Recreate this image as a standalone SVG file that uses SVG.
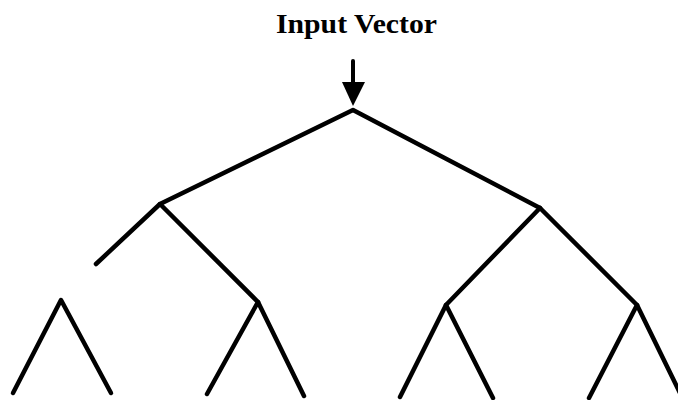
<svg xmlns="http://www.w3.org/2000/svg" width="678" height="400" viewBox="0 0 678 400">
<style>
.e{stroke:#000;stroke-width:4.5;stroke-linecap:round;stroke-linejoin:round;fill:none}
.t{font-family:"Liberation Serif","Times New Roman",serif;font-weight:bold;font-size:27px;fill:#000}
</style>
<rect width="678" height="400" fill="#fff"/>
<g id="input">
<text class="t" x="276" y="33" textLength="161" lengthAdjust="spacingAndGlyphs">Input Vector</text>
<line x1="353" y1="61" x2="353" y2="86" stroke="#000" stroke-width="4" stroke-linecap="round"/>
<polygon points="342,82 365,82 353,106" fill="#000"/>
</g>
<g id="connectors">
<polyline class="e" points="160,204 353,110 540,208"/>
<polyline class="e" points="96,264 160,204 258,302"/>
<polyline class="e" points="446,305 540,208 637,305"/>
<polyline class="e" points="13,393 61,300 111,393"/>
<polyline class="e" points="207,394 258,302 304,396"/>
<polyline class="e" points="400,397 446,305 493,398"/>
<polyline class="e" points="589,398 637,305 680,393"/>
</g>
</svg>
